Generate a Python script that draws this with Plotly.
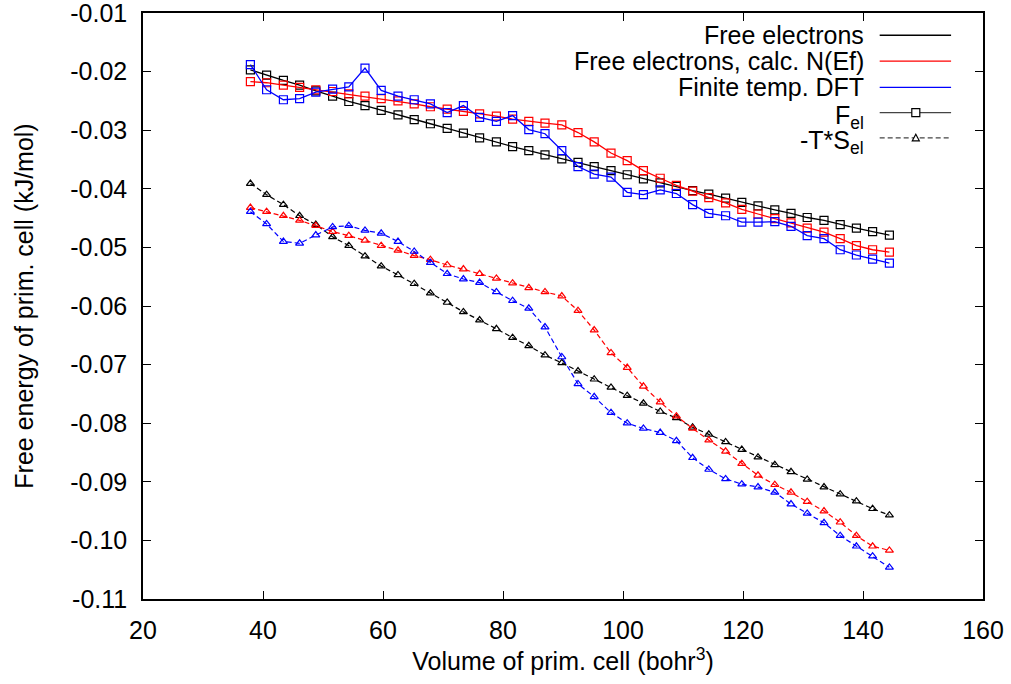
import plotly.graph_objects as go

# volumes of the primitive cell (bohr^3)
volume = [37.9, 40.6, 43.4, 46.1, 48.8, 51.6, 54.3, 57.0, 59.7, 62.5,
          65.2, 67.9, 70.7, 73.4, 76.1, 78.9, 81.6, 84.3, 87.0, 89.8,
          92.5, 95.2, 98.0, 100.7, 103.4, 106.2, 108.9, 111.6, 114.3, 117.1,
          119.8, 122.5, 125.3, 128.0, 130.7, 133.5, 136.2, 138.9, 141.6, 144.4]

# F_el (kJ/mol)
fel_free = [-0.0197, -0.0206, -0.0215, -0.0223, -0.0233, -0.0242, -0.0251, -0.0258, -0.0266, -0.0274,
            -0.0282, -0.0289, -0.0297, -0.0305, -0.0313, -0.0320, -0.0328, -0.0335, -0.0342, -0.0349,
            -0.0355, -0.0362, -0.0369, -0.0376, -0.0383, -0.0390, -0.0396, -0.0403, -0.0409, -0.0416,
            -0.0423, -0.0429, -0.0436, -0.0442, -0.0449, -0.0454, -0.0461, -0.0467, -0.0473, -0.0479]
fel_calc = [-0.0217, -0.0219, -0.0223, -0.0227, -0.0231, -0.0234, -0.0238, -0.0242, -0.0246, -0.0250,
            -0.0255, -0.0260, -0.0264, -0.0268, -0.0272, -0.0276, -0.0281, -0.0285, -0.0288, -0.0291,
            -0.0304, -0.0320, -0.0339, -0.0352, -0.0369, -0.0382, -0.0394, -0.0404, -0.0415, -0.0424,
            -0.0435, -0.0443, -0.0451, -0.0458, -0.0467, -0.0474, -0.0485, -0.0497, -0.0504, -0.0508]
fel_dft = [-0.0188, -0.0231, -0.0248, -0.0246, -0.0235, -0.0230, -0.0226, -0.0194, -0.0232, -0.0242,
           -0.0248, -0.0255, -0.0270, -0.0258, -0.0278, -0.0285, -0.0275, -0.0299, -0.0306, -0.0335,
           -0.0362, -0.0375, -0.0380, -0.0406, -0.0410, -0.0402, -0.0408, -0.0427, -0.0442, -0.0446,
           -0.0457, -0.0457, -0.0456, -0.0464, -0.0480, -0.0485, -0.0504, -0.0513, -0.0520, -0.0527]

# -T*S_el (kJ/mol)
ts_free = [-0.0391, -0.0410, -0.0427, -0.0446, -0.0461, -0.0482, -0.0497, -0.0515, -0.0532, -0.0547,
           -0.0562, -0.0578, -0.0594, -0.0610, -0.0624, -0.0639, -0.0654, -0.0668, -0.0684, -0.0697,
           -0.0711, -0.0725, -0.0739, -0.0753, -0.0766, -0.0780, -0.0791, -0.0807, -0.0819, -0.0832,
           -0.0845, -0.0858, -0.0871, -0.0883, -0.0896, -0.0909, -0.0921, -0.0933, -0.0946, -0.0957]
ts_calc = [-0.0432, -0.0439, -0.0446, -0.0454, -0.0463, -0.0473, -0.0480, -0.0488, -0.0497, -0.0505,
           -0.0514, -0.0521, -0.0530, -0.0537, -0.0545, -0.0553, -0.0561, -0.0569, -0.0576, -0.0583,
           -0.0608, -0.0641, -0.0680, -0.0705, -0.0737, -0.0764, -0.0788, -0.0809, -0.0829, -0.0848,
           -0.0869, -0.0889, -0.0905, -0.0918, -0.0934, -0.0950, -0.0969, -0.0992, -0.1010, -0.1017]
ts_dft = [-0.0439, -0.0460, -0.0490, -0.0493, -0.0479, -0.0465, -0.0463, -0.0471, -0.0476, -0.0490,
          -0.0507, -0.0526, -0.0545, -0.0554, -0.0560, -0.0576, -0.0591, -0.0604, -0.0636, -0.0687,
          -0.0733, -0.0755, -0.0782, -0.0800, -0.0809, -0.0816, -0.0830, -0.0859, -0.0879, -0.0895,
          -0.0904, -0.0909, -0.0918, -0.0938, -0.0954, -0.0970, -0.0992, -0.1010, -0.1027, -0.1046]

ytick_vals = [-0.01, -0.02, -0.03, -0.04, -0.05, -0.06, -0.07, -0.08, -0.09, -0.10, -0.11]
ytick_text = ["-0.01", "-0.02", "-0.03", "-0.04", "-0.05", "-0.06",
              "-0.07", "-0.08", "-0.09", "-0.10", "-0.11"]

FONT = "Liberation Sans, Arial, sans-serif"
FS = 25
colors = {"free": "#000000", "calc": "#ff0000", "dft": "#0000ff"}

fig = go.Figure()

for key, fel, ts in [("free", fel_free, ts_free), ("calc", fel_calc, ts_calc), ("dft", fel_dft, ts_dft)]:
    c = colors[key]
    fig.add_trace(go.Scatter(x=volume, y=fel, mode="lines+markers",
                             line=dict(color=c, width=1.3),
                             marker=dict(symbol="square-open", size=8, color=c, line=dict(width=1.2)),
                             showlegend=False))
    fig.add_trace(go.Scatter(x=volume, y=ts, mode="lines+markers",
                             line=dict(color=c, width=1.2, dash="5px,3px"),
                             marker=dict(symbol="triangle-up-open", size=7, color=c, line=dict(width=1.2)),
                             showlegend=False))

# gnuplot-like key: text on the left, sample on the right
legend_rows = [
    ("Free electrons", "#000000", "solid", None),
    ("Free electrons, calc. N(Ef)", "#ff0000", "solid", None),
    ("Finite temp. DFT", "#0000ff", "solid", None),
    ("F<sub>el</sub>", "#444444", "solid", "square"),
    ("-T*S<sub>el</sub>", "#444444", "5px,3px", "triangle"),
]
row_y = [0.962, 0.918, 0.873, 0.830, 0.787]
for (label, col, dash, mk), yy in zip(legend_rows, row_y):
    fig.add_annotation(x=0.861, y=yy, xref="paper", yref="paper", text=label,
                       showarrow=False, xanchor="right", yanchor="middle",
                       yshift=(-4 if mk else 0),
                       font=dict(family=FONT, size=FS, color="black"))
    fig.add_shape(type="line", xref="paper", yref="paper", x0=0.877, x1=0.962, y0=yy, y1=yy,
                  line=dict(color=col, width=1.3, dash=dash))
    if mk == "square":
        fig.add_shape(type="rect", xref="paper", yref="paper", xsizemode="pixel", ysizemode="pixel",
                      xanchor=0.920, yanchor=yy, x0=-4, x1=4, y0=-4, y1=4,
                      line=dict(color="black", width=1.2), fillcolor="white")
    elif mk == "triangle":
        fig.add_shape(type="path", xref="paper", yref="paper", xsizemode="pixel", ysizemode="pixel",
                      xanchor=0.920, yanchor=yy, path="M -3.5 -3 L 3.5 -3 L 0 3.5 Z",
                      line=dict(color="black", width=1.2), fillcolor="white")

axis_common = dict(showline=True, linecolor="black", linewidth=1.5, mirror="ticks",
                   ticks="inside", ticklen=8, tickwidth=1, tickcolor="black",
                   showgrid=False, zeroline=False, automargin=False, ticklabeloverflow="allow",
                   tickfont=dict(family=FONT, size=FS, color="black"))

fig.update_xaxes(range=[20, 160], dtick=20, tick0=20, ticklabelstandoff=8,
                 title=dict(text="Volume of prim. cell (bohr<sup>3</sup>)", standoff=9,
                            font=dict(family=FONT, size=FS, color="black")),
                 **axis_common)
fig.update_yaxes(range=[-0.11, -0.01], tickvals=ytick_vals, ticktext=ytick_text, ticklabelstandoff=9,
                 title=dict(text="Free energy of prim. cell (kJ/mol)", standoff=30,
                            font=dict(family=FONT, size=FS, color="black")),
                 **axis_common)

fig.update_layout(width=1011, height=684, plot_bgcolor="white", paper_bgcolor="white",
                  margin=dict(l=143, r=28, t=13, b=85),
                  font=dict(family=FONT, size=FS, color="black"))

fig.write_html("out.html", config={"displayModeBar": False},
               post_script="document.body.style.margin='0px';")
